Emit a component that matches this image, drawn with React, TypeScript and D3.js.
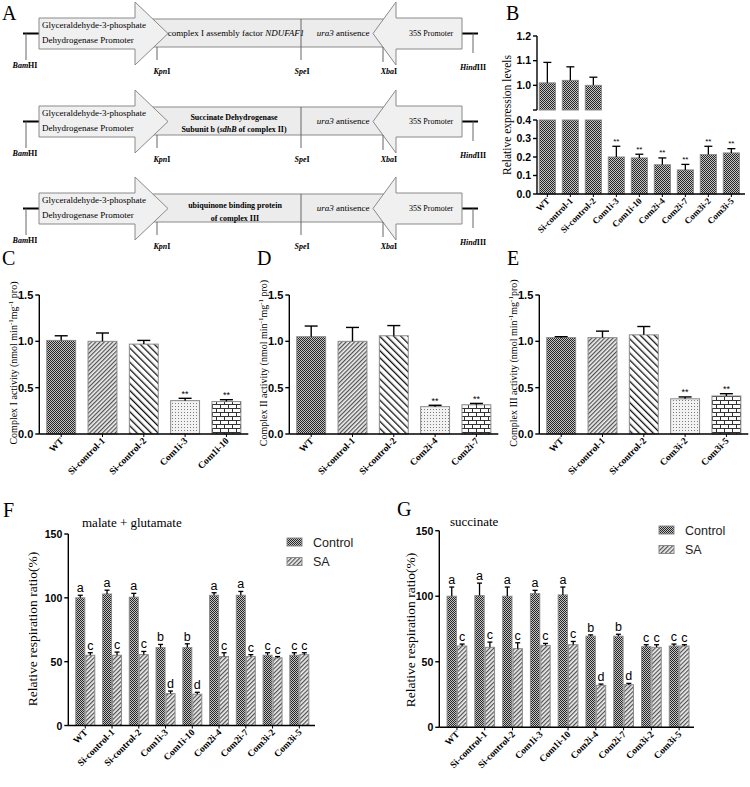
import * as d3 from 'd3';

const SERIF = '"Liberation Serif","Times New Roman",serif';
const SANS = '"Liberation Sans",Arial,sans-serif';

// ---- panel B: relative expression levels
const strains = ['WT', 'Si-control-1', 'Si-control-2', 'Com1i-3', 'Com1i-10', 'Com2i-4', 'Com2i-7', 'Com3i-2', 'Com3i-5'];
const exprMean = [1.01, 1.02, 1.0, 0.2, 0.195, 0.158, 0.13, 0.213, 0.222];
const exprErr = [0.083, 0.055, 0.033, 0.058, 0.02, 0.037, 0.03, 0.045, 0.023];
const exprSig = ['', '', '', '**', '**', '**', '**', '**', '**'];
const exprTicksUpper = [0.9, 1.0, 1.1, 1.2];
const exprTicksLower = [0, 0.1, 0.2, 0.3, 0.4];

// ---- panels C, D, E: complex activities
const strainsC = ['WT', 'Si-control-1', 'Si-control-2', 'Com1i-3', 'Com1i-10'];
const strainsD = ['WT', 'Si-control-1', 'Si-control-2', 'Com2i-4', 'Com2i-7'];
const strainsE = ['WT', 'Si-control-1', 'Si-control-2', 'Com3i-2', 'Com3i-5'];
const complex1 = [1.01, 1.0, 0.97, 0.36, 0.35];
const complex1Err = [0.05, 0.09, 0.04, 0.025, 0.02];
const complex2 = [1.05, 1.0, 1.06, 0.295, 0.315];
const complex2Err = [0.115, 0.15, 0.11, 0.015, 0.015];
const complex3 = [1.04, 1.04, 1.07, 0.38, 0.41];
const complex3Err = [0.01, 0.07, 0.09, 0.02, 0.025];
const activitySig = ['', '', '', '**', '**'];
const activityTicks = [0, 0.5, 1.0, 1.5];
const activityPatterns = ['pCheck', 'pDiagFine', 'pDiagWide', 'pDots', 'pBrick'];

// ---- panels F, G: respiration
const respTicks = [0, 50, 100, 150];
const mgControl = [100, 103, 100.5, 61, 61, 102, 102, 55, 55];
const mgControlErr = [2, 3, 3, 2.5, 3, 2, 3, 2, 2];
const mgControlLetters = ['a', 'a', 'a', 'b', 'b', 'a', 'a', 'c', 'c'];
const mgSA = [55, 55, 55.5, 25, 24.5, 54, 54, 53, 55.5];
const mgSAErr = [2, 2.5, 2.5, 2, 1.5, 3, 1.5, 1, 1.5];
const mgSALetters = ['c', 'c', 'c', 'd', 'd', 'c', 'c', 'c', 'c'];
const sucControl = [100, 100.5, 100, 102, 101, 69.5, 69.5, 61.5, 62];
const sucControlErr = [7, 9.5, 7, 2.5, 6, 1, 1.5, 1.5, 1.5];
const sucControlLetters = ['a', 'a', 'a', 'a', 'a', 'b', 'b', 'c', 'c'];
const sucSA = [62, 61, 60, 62.5, 63, 32, 32.5, 61, 62];
const sucSAErr = [1.5, 4, 4.5, 1.5, 2.5, 1, 1, 2, 1];
const sucSALetters = ['c', 'c', 'c', 'c', 'c', 'd', 'd', 'c', 'c'];
const treatments = ['Control', 'SA'];

const BAR_STROKE = '#8a8a8a';

function Patterns() {
  return (
    <defs>
      <pattern id="pCheck" width={2} height={2} patternUnits="userSpaceOnUse">
        <rect width={2} height={2} fill="#c4c4c4" />
        <rect width={1} height={1} fill="#262626" />
        <rect x={1} y={1} width={1} height={1} fill="#262626" />
      </pattern>
      <pattern id="pDiagFine" width={3} height={3} patternUnits="userSpaceOnUse" patternTransform="rotate(45)">
        <rect width={3} height={3} fill="#eeeeee" />
        <rect width={1.2} height={3} fill="#505050" />
      </pattern>
      <pattern id="pDiagWide" width={5} height={5} patternUnits="userSpaceOnUse" patternTransform="rotate(-45)">
        <rect width={5} height={5} fill="#ffffff" />
        <rect width={1.3} height={5} fill="#111111" />
      </pattern>
      <pattern id="pDots" width={3} height={3} patternUnits="userSpaceOnUse">
        <rect width={3} height={3} fill="#f2f2f2" />
        <rect x={1} y={1} width={1} height={1} fill="#7c7c7c" />
      </pattern>
      <pattern id="pBrick" width={8} height={8} patternUnits="userSpaceOnUse">
        <rect width={8} height={8} fill="#fbfbfb" />
        <path d="M0,0.5H8M0,4.5H8M0.5,0V4.5M4.5,4.5V8" stroke="#333" strokeWidth={1} />
      </pattern>
    </defs>
  );
}

function Construct({ dy, children }: { dy: number; children: any }) {
  const t = `translate(0,${dy})`;
  return (
    <g transform={t} fontFamily={SERIF}>
      {/* middle insert box */}
      <rect x={140} y={19} width={256} height={28} fill="#ececec" stroke="#8a8a8a" />
      <line x1={301} x2={301} y1={19} y2={60} stroke="#666" />
      {/* end lines */}
      <line x1={23} x2={40} y1={33.5} y2={33.5} stroke="#000" strokeWidth={2} />
      <line x1={26} x2={26} y1={33.5} y2={60} stroke="#666" />
      <line x1={461} x2={478} y1={33.5} y2={33.5} stroke="#000" strokeWidth={2} />
      <line x1={473} x2={473} y1={33.5} y2={53} stroke="#666" />
      {/* promoter arrows */}
      <path d="M39,18H135V2L168,33.5L135,65V49H39Z" fill="#f0f0f0" stroke="#8a8a8a" />
      <path d="M462,18H396V2L373,33.5L396,65V49H462Z" fill="#f0f0f0" stroke="#8a8a8a" />
      <line x1={157} x2={157} y1={47} y2={60} stroke="#666" />
      <line x1={383} x2={383} y1={47} y2={62} stroke="#666" />
      <text x={42} y={28} fontSize={9}>Glyceraldehyde-3-phosphate</text>
      <text x={42} y={43} fontSize={9}>Dehydrogenase Promoter</text>
      <text x={343} y={36} fontSize={9} textAnchor="middle"><tspan fontStyle="italic">ura3</tspan> antisence</text>
      <text x={431} y={36} fontSize={8} textAnchor="middle">35S Promoter</text>
      {children}
      <g fontSize={8} fontWeight="bold">
        <text x={25} y={68} textAnchor="middle"><tspan fontStyle="italic">Bam</tspan>HI</text>
        <text x={162} y={74} textAnchor="middle"><tspan fontStyle="italic">Kpn</tspan>I</text>
        <text x={302} y={74} textAnchor="middle"><tspan fontStyle="italic">Spe</tspan>I</text>
        <text x={389} y={74} textAnchor="middle"><tspan fontStyle="italic">Xba</tspan>I</text>
        <text x={473} y={70} textAnchor="middle"><tspan fontStyle="italic">Hind</tspan>III</text>
      </g>
    </g>
  );
}

function PanelA() {
  return (
    <g>
      <text x={2} y={20} fontFamily={SERIF} fontSize={20}>A</text>
      <Construct dy={0}>
        <text x={236} y={36} fontSize={9} textAnchor="middle">complex I assembly factor <tspan fontStyle="italic">NDUFAF1</tspan></text>
      </Construct>
      <Construct dy={88}>
        <text x={234} y={31.5} fontSize={8} fontWeight="bold" textAnchor="middle">Succinate Dehydrogenase</text>
        <text x={234} y={44} fontSize={8} fontWeight="bold" textAnchor="middle">Subunit b (<tspan fontStyle="italic">sdhB</tspan> of complex II)</text>
      </Construct>
      <Construct dy={175}>
        <text x={235} y={33} fontSize={8} fontWeight="bold" textAnchor="middle">ubiquinone binding protein</text>
        <text x={235} y={46} fontSize={8} fontWeight="bold" textAnchor="middle">of complex III</text>
      </Construct>
    </g>
  );
}

function XLabels({ names, centers, axisY, size }: { names: string[]; centers: number[]; axisY: number; size: number }) {
  return (
    <g fontFamily={SERIF} fontWeight="bold" fontSize={size}>
      {names.map((n, i) => (
        <g key={n}>
          <line x1={centers[i]} x2={centers[i]} y1={axisY} y2={axisY + 3} stroke="#000" />
          <text transform={`translate(${centers[i] + 3},${axisY + 7.5}) rotate(-45)`} textAnchor="end">{n}</text>
        </g>
      ))}
    </g>
  );
}

function PanelB() {
  const ax = 537;
  const yUp = d3.scaleLinear().domain([0.9, 1.2]).range([110, 36]);
  const yLo = d3.scaleLinear().domain([0, 0.4]).range([194, 120]);
  const x = d3.scaleBand().domain(strains).range([ax, 741.7]).paddingInner(0.3).paddingOuter(0.1);
  const bw = x.bandwidth();
  const fmt = d3.format('.1f');
  return (
    <g>
      <text x={506} y={20} fontFamily={SERIF} fontSize={20}>B</text>
      <text transform="translate(511,115) rotate(-90)" textAnchor="middle" fontFamily={SERIF} fontSize={11.5}>Relative expression levels</text>
      {strains.map((s, i) => {
        const v = exprMean[i];
        const top = v + exprErr[i];
        const x0 = x(s)!;
        const cx = x0 + bw / 2;
        const broken = v > 0.4;
        const barY = broken ? yUp(v) : yLo(v);
        const errY = top > 0.9 ? yUp(top) : yLo(top);
        return (
          <g key={s}>
            {broken ? (
              <>
                <rect x={x0} y={yLo(0.4)} width={bw} height={yLo(0) - yLo(0.4)} fill="url(#pCheck)" stroke={BAR_STROKE} />
                <rect x={x0} y={yUp(v)} width={bw} height={yUp(0.9) - yUp(v)} fill="url(#pCheck)" stroke={BAR_STROKE} />
              </>
            ) : (
              <rect x={x0} y={yLo(v)} width={bw} height={yLo(0) - yLo(v)} fill="url(#pCheck)" stroke={BAR_STROKE} />
            )}
            <line x1={cx} x2={cx} y1={barY} y2={errY} stroke="#000" strokeWidth={1.3} />
            <line x1={cx - 4} x2={cx + 4} y1={errY} y2={errY} stroke="#000" strokeWidth={1.3} />
            {exprSig[i] && <text x={cx} y={errY - 2.5} textAnchor="middle" fontFamily={SANS} fontSize={8}>{exprSig[i]}</text>}
          </g>
        );
      })}
      <g stroke="#000" strokeWidth={1.4}>
        <line x1={ax} x2={ax} y1={yUp(1.2)} y2={yUp(0.9)} />
        <line x1={ax} x2={ax} y1={yLo(0.4)} y2={yLo(0)} />
        <line x1={ax} x2={745} y1={yLo(0)} y2={yLo(0)} />
        {exprTicksUpper.map(t => <line key={'u' + t} x1={ax - 4} x2={ax} y1={yUp(t)} y2={yUp(t)} />)}
        {exprTicksLower.map(t => <line key={'l' + t} x1={ax - 4} x2={ax} y1={yLo(t)} y2={yLo(t)} />)}
      </g>
      <g fontFamily={SANS} fontSize={10.5} fontWeight="bold" textAnchor="end">
        {exprTicksUpper.filter(t => t > 0.95).map(t => <text key={'u' + t} x={ax - 6} y={yUp(t) + 3.8}>{fmt(t)}</text>)}
        {exprTicksLower.map(t => <text key={'l' + t} x={ax - 6} y={yLo(t) + 3.8}>{fmt(t)}</text>)}
      </g>
      <XLabels names={strains} centers={strains.map(s => x(s)! + bw / 2)} axisY={yLo(0)} size={9} />
    </g>
  );
}

function ActivityPanel({ letter, letterX, ax, names, mean, err, name, tail }:
  { letter: string; letterX: number; ax: number; names: string[]; mean: number[]; err: number[]; name: string; tail: string }) {
  const y = d3.scaleLinear().domain([0, 1.5]).range([434, 295]);
  const x = d3.scaleBand().domain(names).range([ax, ax + 209]).paddingInner(0.3).paddingOuter(0.18);
  const bw = x.bandwidth();
  const fmt = d3.format('.1f');
  return (
    <g>
      <text x={letterX} y={265} fontFamily={SERIF} fontSize={20}>{letter}</text>
      <text transform={`translate(${ax - 22},363) rotate(-90)`} textAnchor="middle" fontFamily={SERIF} fontSize={10}>
        {name} (nmol min<tspan fontSize={7} dy={-4}>-1</tspan><tspan dy={4}>mg</tspan><tspan fontSize={7} dy={-4}>-1</tspan><tspan dy={4}>{tail}</tspan>
      </text>
      {names.map((s, i) => {
        const x0 = x(s)!;
        const cx = x0 + bw / 2;
        const errY = y(mean[i] + err[i]);
        return (
          <g key={s}>
            <rect x={x0} y={y(mean[i])} width={bw} height={y(0) - y(mean[i])} fill={`url(#${activityPatterns[i]})`} stroke={BAR_STROKE} />
            <line x1={cx} x2={cx} y1={y(mean[i])} y2={errY} stroke="#000" strokeWidth={1.4} />
            <line x1={cx - 6.5} x2={cx + 6.5} y1={errY} y2={errY} stroke="#000" strokeWidth={1.4} />
            {activitySig[i] && <text x={cx} y={errY - 1.5} textAnchor="middle" fontFamily={SANS} fontSize={9}>{activitySig[i]}</text>}
          </g>
        );
      })}
      <g stroke="#000" strokeWidth={1.4}>
        <line x1={ax} x2={ax} y1={y(1.5)} y2={y(0)} />
        <line x1={ax} x2={ax + 209} y1={y(0)} y2={y(0)} />
        {activityTicks.map(t => <line key={t} x1={ax - 4} x2={ax} y1={y(t)} y2={y(t)} />)}
      </g>
      <g fontFamily={SANS} fontSize={11} fontWeight="bold" textAnchor="end">
        {activityTicks.map(t => <text key={t} x={ax - 6} y={y(t) + 4}>{fmt(t)}</text>)}
      </g>
      <XLabels names={names} centers={names.map(s => x(s)! + bw / 2)} axisY={y(0)} size={9.5} />
    </g>
  );
}

type RespProps = {
  letter: string; letterPos: [number, number]; title: string; titlePos: [number, number];
  ax: number; axEnd: number; rangeEnd: number; yRange: [number, number];
  ctrl: number[]; ctrlErr: number[]; ctrlLet: string[]; sa: number[]; saErr: number[]; saLet: string[];
  legend: [number, number]; labelPos: [number, number];
};

function RespPanel(p: RespProps) {
  const y = d3.scaleLinear().domain([0, 150]).range(p.yRange);
  const x = d3.scaleBand().domain(strains).range([p.ax, p.rangeEnd]).paddingInner(0.29).paddingOuter(0.28);
  const inner = d3.scaleBand().domain(treatments).range([0, x.bandwidth()]).paddingInner(0.1);
  const bw = inner.bandwidth();
  const series = [
    { key: 'Control', vals: p.ctrl, errs: p.ctrlErr, lets: p.ctrlLet, fill: 'url(#pCheck)' },
    { key: 'SA', vals: p.sa, errs: p.saErr, lets: p.saLet, fill: 'url(#pDiagFine)' },
  ];
  const [lx, ly] = p.legend;
  return (
    <g>
      <text x={p.letterPos[0]} y={p.letterPos[1]} fontFamily={SERIF} fontSize={20}>{p.letter}</text>
      <text x={p.titlePos[0]} y={p.titlePos[1]} fontFamily={SERIF} fontSize={13}>{p.title}</text>
      <text transform={`translate(${p.labelPos[0]},${p.labelPos[1]}) rotate(-90)`} textAnchor="middle" fontFamily={SERIF} fontSize={13.5}>Relative respiration ratio(%)</text>
      {strains.map((s, i) => (
        <g key={s}>
          {series.map(sr => {
            const x0 = x(s)! + inner(sr.key)!;
            const cx = x0 + bw / 2;
            const v = sr.vals[i];
            const errY = y(v + sr.errs[i]);
            return (
              <g key={sr.key}>
                <rect x={x0} y={y(v)} width={bw} height={y(0) - y(v)} fill={sr.fill} stroke={BAR_STROKE} />
                <line x1={cx} x2={cx} y1={y(v)} y2={errY} stroke="#000" strokeWidth={1.3} />
                <line x1={cx - 2.5} x2={cx + 2.5} y1={errY} y2={errY} stroke="#000" strokeWidth={1.3} />
                <text x={cx} y={errY - 3} textAnchor="middle" fontFamily={SANS} fontSize={12.5}>{sr.lets[i]}</text>
              </g>
            );
          })}
        </g>
      ))}
      <g stroke="#000" strokeWidth={1.4}>
        <line x1={p.ax} x2={p.ax} y1={y(150)} y2={y(0)} />
        <line x1={p.ax} x2={p.axEnd} y1={y(0)} y2={y(0)} />
        {respTicks.map(t => <line key={t} x1={p.ax - 4} x2={p.ax} y1={y(t)} y2={y(t)} />)}
      </g>
      <g fontFamily={SANS} fontSize={10.5} fontWeight="bold" textAnchor="end">
        {respTicks.map(t => <text key={t} x={p.ax - 6} y={y(t) + 4}>{t}</text>)}
      </g>
      <XLabels names={strains} centers={strains.map(s => x(s)! + x.bandwidth() / 2)} axisY={y(0)} size={9.5} />
      {series.map((sr, k) => (
        <g key={sr.key}>
          <rect x={lx} y={ly + k * 19.5} width={15} height={8} fill={sr.fill} stroke={BAR_STROKE} />
          <text x={lx + 26} y={ly + k * 19.5 + 8.5} fontFamily={SANS} fontSize={12.5} fill="#222">{sr.key}</text>
        </g>
      ))}
    </g>
  );
}

export default function App() {
  return (
    <svg width={750} height={787} style={{ position: 'absolute', left: 0, top: 0, background: '#fff' }}>
      <Patterns />
      <rect width={750} height={787} fill="#fff" />
      <PanelA />
      <PanelB />
      <ActivityPanel letter="C" letterX={2} ax={39.3} names={strainsC} mean={complex1} err={complex1Err} name="Complex I activity" tail=" pro)" />
      <ActivityPanel letter="D" letterX={257} ax={289.3} names={strainsD} mean={complex2} err={complex2Err} name="Complex II activity" tail=" pro)" />
      <ActivityPanel letter="E" letterX={507} ax={539.3} names={strainsE} mean={complex3} err={complex3Err} name="Complex III activity" tail="pro)" />
      <RespPanel letter="F" letterPos={[3, 517]} title="malate + glutamate" titlePos={[82, 527]}
        ax={68.3} axEnd={315} rangeEnd={316.3} yRange={[725.5, 534]}
        ctrl={mgControl} ctrlErr={mgControlErr} ctrlLet={mgControlLetters}
        sa={mgSA} saErr={mgSAErr} saLet={mgSALetters}
        legend={[287, 538]} labelPos={[36.5, 629]} />
      <RespPanel letter="G" letterPos={[397, 516]} title="succinate" titlePos={[450, 526]}
        ax={439.3} axEnd={694} rangeEnd={696.8} yRange={[727.3, 530.7]}
        ctrl={sucControl} ctrlErr={sucControlErr} ctrlLet={sucControlLetters}
        sa={sucSA} saErr={sucSAErr} saLet={sucSALetters}
        legend={[659, 526]} labelPos={[415, 630]} />
    </svg>
  );
}
